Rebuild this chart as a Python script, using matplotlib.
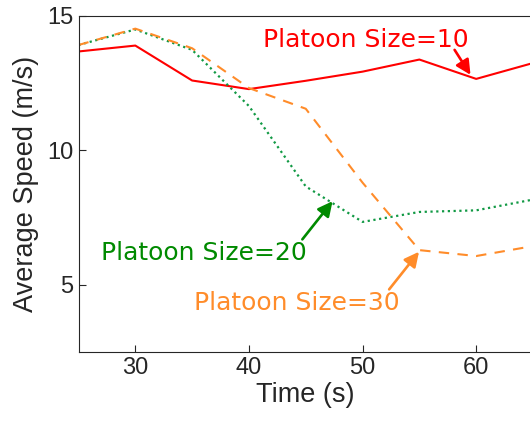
import matplotlib
matplotlib.use('Agg')
import matplotlib.pyplot as plt

# time (s)
t = [25, 30, 35, 40, 45, 50, 55, 60, 65]
# average speed (m/s) per platoon size
speed_10 = [13.68, 13.90, 12.60, 12.28, 12.59, 12.93, 13.38, 12.66, 13.25]
speed_20 = [13.92, 14.50, 13.74, 11.65, 8.66, 7.34, 7.71, 7.77, 8.17]
speed_30 = [13.92, 14.53, 13.80, 12.32, 11.55, 8.80, 6.29, 6.07, 6.44]

# labels: text, text position, arrow tail, arrow head
labels = ['Platoon Size=10', 'Platoon Size=20', 'Platoon Size=30']
label_pos = [(50.3, 14.11), (36.0, 6.19), (44.24, 4.34)]
arrow_tail = [(58.1, 13.74), (44.7, 6.69), (52.34, 4.83)]
arrow_head = [(59.5, 12.81), (47.36, 8.11), (54.97, 6.23)]

red = '#ff0000'
green = '#008a00'
orange = '#ff8c2a'

plt.rcParams['font.family'] = ['Liberation Sans', 'DejaVu Sans']

fig = plt.figure(figsize=(5.30, 4.23), dpi=100)
ax = fig.add_axes([78.5 / 530, 1 - 352 / 423, (533 - 78.5) / 530, (352 - 16) / 423])

ax.plot(t, speed_10, color=red, lw=1.5, ls='-')
ax.plot(t, speed_20, color='#119944', lw=1.6, ls=(0, (1, 1.6)))
ax.plot(t, speed_30, color=orange, lw=1.5, ls=(0, (5, 4)))

ax.set_xlim(25, 65)
ax.set_ylim(2.5, 15)
ax.set_xticks([30, 40, 50, 60])
ax.set_yticks([5, 10, 15])
ax.tick_params(labelsize=17, colors='#262626', direction='in', length=5, width=0.8)
for s in ax.spines.values():
    s.set_color('#262626')
    s.set_linewidth(0.8)

ax.set_xlabel('Time (s)', fontsize=19.5, color='#262626', labelpad=2)
ax.set_ylabel('Average Speed (m/s)', fontsize=19.5, color='#262626', labelpad=6)

for lab, pos, tail, head, c in zip(labels, label_pos, arrow_tail, arrow_head, [red, green, orange]):
    ax.text(pos[0], pos[1], lab, color=c, fontsize=18, family='DejaVu Sans',
            ha='center', va='center')
    ax.annotate('', xy=head, xytext=tail,
                arrowprops=dict(arrowstyle='-|>', color=c, lw=1.9, mutation_scale=22,
                                shrinkA=0, shrinkB=0))

fig.savefig('out.png', dpi=100)
